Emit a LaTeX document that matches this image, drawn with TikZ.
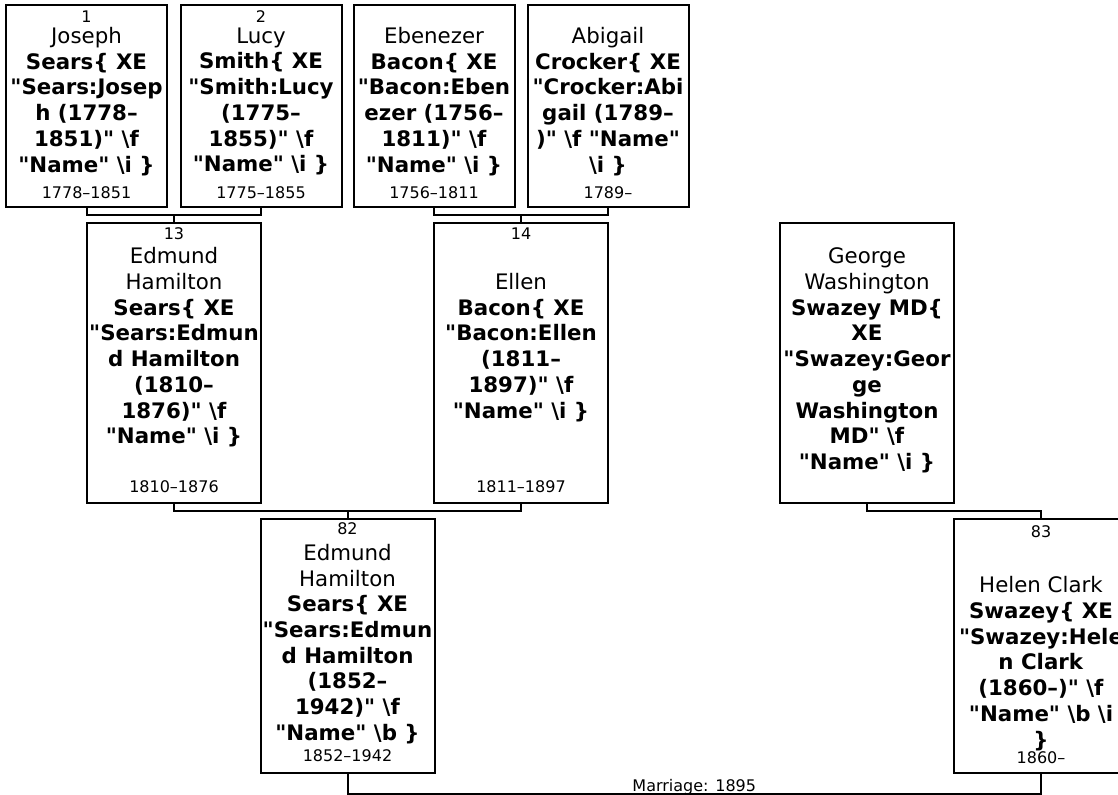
\documentclass[tikz,border=0pt]{standalone}
\usepackage{fontspec}
\setmainfont{DejaVu Sans}[Ligatures=TeXOff]
\usetikzlibrary{positioning,calc}

\begin{document}
\begin{tikzpicture}[x=0.75pt, y=-0.75pt,
        person/.style={draw, rectangle, line width=1.5pt, inner sep=0pt},
        parentbox/.style={person, minimum width=120.75pt, minimum height=151.5pt},
        childbox/.style={person, minimum width=130.5pt, minimum height=210pt},
        grandbox/.style={person, minimum width=130.5pt, minimum height=190.5pt},
        smalltext/.style={inner sep=0pt, font=\fontsize{12}{14}\selectfont},
        nametext/.style={inner sep=0pt, align=center, font=\fontsize{16}{19.3}\selectfont},
        link/.style={line width=1.5pt}
    ]
        \useasboundingbox (0,0) rectangle (1118,795);
        \clip (0,0) rectangle (1118,795);

        % Avós
        \node[parentbox] (joseph) at (86.5,106) {};
        \node[parentbox] (lucy) at (261,106) {};
        \node[parentbox] (ebenezer) at (434,106) {};
        \node[parentbox] (abigail) at (608,106) {};

        \node[smalltext] (joseph-id) at (86.5,17) {1};
        \node[nametext] (joseph-name) at (86.5,101.5) {Joseph\\\textbf{Sears\{ XE}\\\textbf{"Sears:Josep}\\\textbf{h (1778–}\\\textbf{1851)" \textbackslash f}\\\textbf{"Name" \textbackslash i \}}};
        \node[smalltext] (joseph-dates) at (86.5,193) {1778–1851};

        \node[smalltext] (lucy-id) at (261,17) {2};
        \node[nametext] (lucy-name) at (261,101.5) {Lucy\\\textbf{Smith\{ XE}\\\textbf{"Smith:Lucy}\\\textbf{(1775–}\\\textbf{1855)" \textbackslash f}\\\textbf{"Name" \textbackslash i \}}};
        \node[smalltext] (lucy-dates) at (261,193) {1775–1855};

        \node[nametext] (ebenezer-name) at (434,101.5) {Ebenezer\\\textbf{Bacon\{ XE}\\\textbf{"Bacon:Eben}\\\textbf{ezer (1756–}\\\textbf{1811)" \textbackslash f}\\\textbf{"Name" \textbackslash i \}}};
        \node[smalltext] (ebenezer-dates) at (434,193) {1756–1811};

        \node[nametext] (abigail-name) at (608,101.5) {Abigail\\\textbf{Crocker\{ XE}\\\textbf{"Crocker:Abi}\\\textbf{gail (1789–}\\\textbf{)" \textbackslash f "Name"}\\\textbf{\textbackslash i \}}};
        \node[smalltext] (abigail-dates) at (608,193) {1789–};

        % Pais
        \node[childbox] (edmund) at (174,363) {};
        \node[childbox] (ellen) at (521,363) {};
        \node[childbox] (george) at (867,363) {};

        \node[smalltext] (edmund-id) at (174,233.5) {13};
        \node[nametext] (edmund-name) at (174,347.5) {Edmund\\Hamilton\\\textbf{Sears\{ XE}\\\textbf{"Sears:Edmun}\\\textbf{d Hamilton}\\\textbf{(1810–}\\\textbf{1876)" \textbackslash f}\\\textbf{"Name" \textbackslash i \}}};
        \node[smalltext] (edmund-dates) at (174,486.5) {1810–1876};

        \node[smalltext] (ellen-id) at (521,233.5) {14};
        \node[nametext] (ellen-name) at (521,347.5) {Ellen\\\textbf{Bacon\{ XE}\\\textbf{"Bacon:Ellen}\\\textbf{(1811–}\\\textbf{1897)" \textbackslash f}\\\textbf{"Name" \textbackslash i \}}};
        \node[smalltext] (ellen-dates) at (521,486.5) {1811–1897};

        \node[nametext] (george-name) at (867,360.5) {George\\Washington\\\textbf{Swazey MD\{}\\\textbf{XE}\\\textbf{"Swazey:Geor}\\\textbf{ge}\\\textbf{Washington}\\\textbf{MD" \textbackslash f}\\\textbf{"Name" \textbackslash i \}}};

        % Casal
        \node[grandbox] (edmundjr) at (347.5,646) {};
        \node[grandbox] (helen) at (1041,646) {};

        \node[smalltext] (edmundjr-id) at (347.5,529) {82};
        \node[nametext] (edmundjr-name) at (347.5,644) {Edmund\\Hamilton\\\textbf{Sears\{ XE}\\\textbf{"Sears:Edmun}\\\textbf{d Hamilton}\\\textbf{(1852–}\\\textbf{1942)" \textbackslash f}\\\textbf{"Name" \textbackslash b \}}};
        \node[smalltext] (edmundjr-dates) at (347.5,756) {1852–1942};

        \node[smalltext] (helen-id) at (1041,531.5) {83};
        \node[nametext] (helen-name) at (1041,663.5) {Helen Clark\\\textbf{Swazey\{ XE}\\\textbf{"Swazey:Hele}\\\textbf{n Clark}\\\textbf{(1860–)" \textbackslash f}\\\textbf{"Name" \textbackslash b \textbackslash i}\\\textbf{\}}};
        \node[smalltext] (helen-dates) at (1041,757.5) {1860–};

        % Ligações
        \draw[link] (joseph.south) |- ($(joseph.south)!.5!(edmund.north)$) -| (lucy.south);
        \draw[link] (edmund.north) -- ++(0,-8);
        \draw[link] (ebenezer.south) |- ($(ebenezer.south)!.5!(ellen.north)$) -| (abigail.south);
        \draw[link] (ellen.north) -- ++(0,-8);
        \draw[link] (edmund.south) |- ($(edmund.south)!.5!(edmundjr.north)$) -| (ellen.south);
        \draw[link] (edmundjr.north) -- ++(0,-8);
        \draw[link] (george.south) |- ($(george.south)!.5!(helen.north)$) -| (helen.north);

        % Casamento
        \draw[link] (edmundjr.south) -- ++(0,20) -| (helen.south)
            node[smalltext, pos=.25, anchor=base, yshift=2.25pt] (marriage) {Marriage: 1895};
    \end{tikzpicture}
\end{document}
